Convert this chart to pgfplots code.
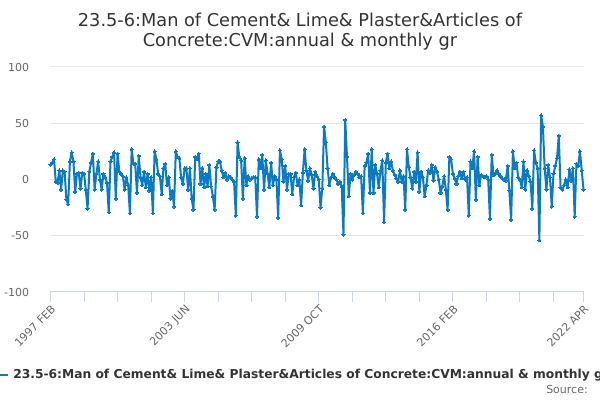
\documentclass[border=0pt]{standalone}
\usepackage{fontspec}
\setmainfont{DejaVu Sans}
\usepackage{pgfplots}
\pgfplotsset{compat=1.18}
\definecolor{series}{HTML}{0B7AC4}
\definecolor{gridc}{HTML}{E6E6E6}
\definecolor{axisc}{HTML}{CCD6EB}
\definecolor{labc}{HTML}{666666}
\definecolor{titc}{HTML}{333333}
\begin{document}
\begin{tikzpicture}[x=1pt,y=1pt]
\begin{axis}[
  at={(37.875pt,81pt)}, anchor=south west,
  scale only axis, width=399.75pt, height=168.75pt,
  xmin=0, xmax=302, ymin=-100, ymax=100,
  axis x line*=bottom, axis y line*=left,
  x axis line style={axisc, line width=0.75pt},
  y axis line style={draw=none},
  ytick={-100,-50,0,50,100},
  ytick style={draw=none},
  ymajorgrids, grid style={gridc, line width=0.75pt},
  xtick={19,38,57,95,114,133,171,190,209,247,266,285},
  xticklabels={},
  extra x ticks={0,76,152,228,302},
  extra x tick labels={{1997 FEB},{2003 JUN},{2009 OCT},{2016 FEB},{2022 APR}},
  extra x tick style={grid=none, xtick style={axisc, line width=0.75pt}},
  xtick style={axisc, line width=0.75pt},
  tick align=outside, major tick length=7.5pt,
  xticklabel style={rotate=45, anchor=north east, font=\fontsize{8.25}{10}\selectfont, text=labc, inner sep=1pt},
  yticklabel style={font=\fontsize{8.25}{10}\selectfont, text=labc, xshift=-5pt},
  /pgf/number format/assume math mode=true,
  clip=false,
]
\addplot[color=series, line width=1.5pt, line join=round, mark=*, mark size=1.2pt, mark options={fill=series, draw=series, line width=0pt}] coordinates {
(0,13)(1,15)(2,18)(3,-2)(4,-3)(5,8)(6,-9)(7,8)(8,7)(9,-18)
(10,-22)(11,16)(12,24)(13,16)(14,-11)(15,5)(16,6)(17,-8)(18,6)(19,5)
(20,-9)(21,-26)(22,7)(23,15)(24,23)(25,-9)(26,5)(27,16)(28,0)(29,-9)
(30,5)(31,2)(32,-3)(33,-29)(34,16)(35,20)(36,24)(37,-17)(38,23)(39,7)
(40,5)(41,3)(42,-9)(43,2)(44,-5)(45,-30)(46,27)(47,14)(48,14)(49,-12)
(50,21)(51,2)(52,-5)(53,7)(54,-7)(55,5)(56,-10)(57,2)(58,-30)(59,25)
(60,18)(61,5)(62,3)(63,-13)(64,10)(65,14)(66,-5)(67,2)(68,-17)(69,-10)
(70,-24)(71,25)(72,20)(73,19)(74,2)(75,-4)(76,10)(77,10)(78,-9)(79,10)
(80,-17)(81,-27)(82,20)(83,18)(84,23)(85,-4)(86,10)(87,-7)(88,5)(89,-6)
(90,13)(91,-6)(92,-15)(93,-27)(94,11)(95,16)(96,16)(97,8)(98,2)(99,6)
(100,0)(101,3)(102,2)(103,0)(104,-2)(105,-32)(106,33)(107,20)(108,17)(109,-17)
(110,19)(111,-5)(112,3)(113,0)(114,1)(115,2)(116,2)(117,-33)(118,18)(119,10)
(120,22)(121,-9)(122,17)(123,5)(124,-7)(125,15)(126,-5)(127,3)(128,0)(129,-34)
(130,26)(131,18)(132,-2)(133,12)(134,-9)(135,5)(136,5)(137,-13)(138,2)(139,6)
(140,-5)(141,0)(142,-23)(143,6)(144,27)(145,8)(146,-1)(147,10)(148,4)(149,-8)
(150,7)(151,3)(152,0)(153,-25)(154,-8)(155,47)(156,33)(157,10)(158,-5)(159,2)
(160,5)(161,2)(162,0)(163,-4)(164,-2)(165,-6)(166,-49)(167,53)(168,20)(169,-15)
(170,5)(171,0)(172,4)(173,7)(174,5)(175,2)(176,3)(177,-30)(178,12)(179,15)
(180,23)(181,-12)(182,27)(183,-12)(184,13)(185,5)(186,-7)(187,8)(188,17)(189,-38)
(190,15)(191,23)(192,10)(193,16)(194,8)(195,4)(196,1)(197,-2)(198,8)(199,-2)
(200,3)(201,-27)(202,27)(203,11)(204,2)(205,-8)(206,7)(207,-2)(208,24)(209,-11)
(210,7)(211,2)(212,-15)(213,-5)(214,8)(215,6)(216,13)(217,-1)(218,11)(219,7)
(220,0)(221,-12)(222,-6)(223,3)(224,-9)(225,-27)(226,20)(227,18)(228,5)(229,1)
(230,-4)(231,3)(232,7)(233,1)(234,7)(235,0)(236,2)(237,-32)(238,16)(239,10)
(240,25)(241,-18)(242,20)(243,-5)(244,4)(245,3)(246,2)(247,3)(248,0)(249,-35)
(250,22)(251,4)(252,5)(253,8)(254,5)(255,3)(256,1)(257,0)(258,-1)(259,12)
(260,-10)(261,-36)(262,25)(263,10)(264,15)(265,2)(266,0)(267,-7)(268,16)(269,-9)
(270,8)(271,3)(272,-2)(273,-26)(274,26)(275,15)(276,10)(277,-54)(278,57)(279,47)
(280,10)(281,-9)(282,13)(283,2)(284,-24)(285,5)(286,12)(287,19)(288,39)(289,-7)
(290,-9)(291,-5)(292,0)(293,-7)(294,9)(295,-1)(296,10)(297,-33)(298,14)(299,12)
(300,25)(301,8)(302,-9)
};
\end{axis}
\node[text=titc, font=\fontsize{13.3}{16}\selectfont, anchor=base] at (225pt,280pt) {23.5-6:Man of Cement\& Lime\& Plaster\&Articles of};
\node[text=titc, font=\fontsize{13.3}{16}\selectfont, anchor=base] at (225pt,265pt) {Concrete:CVM:annual \& monthly gr};
\draw[series, line width=1.5pt] (0pt,18.75pt) -- (6pt,18.75pt);
\node[text=titc, font=\bfseries\fontsize{9.2}{11}\selectfont, anchor=west, inner sep=0pt] at (9.75pt,18.75pt) {23.5-6:Man of Cement\& Lime\& Plaster\&Articles of Concrete:CVM:annual \& monthly growth rate};
\node[text=labc, font=\fontsize{8.25}{10}\selectfont, anchor=base east, inner sep=0pt] at (441pt,5pt) {Source:};
\pgfresetboundingbox
\useasboundingbox (0pt,0pt) rectangle (450pt,300pt);
\end{tikzpicture}
\end{document}
